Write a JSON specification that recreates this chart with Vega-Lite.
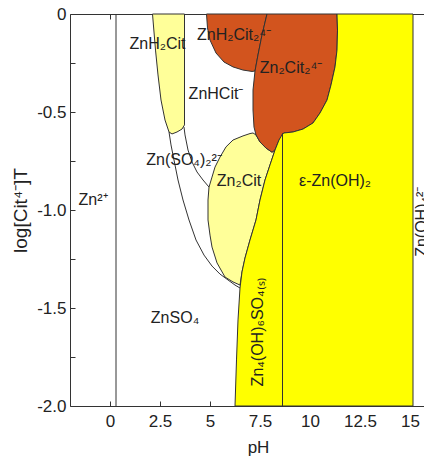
{
  "$schema": "https://vega.github.io/schema/vega-lite/v6.json",
  "width": 354,
  "height": 392,
  "autosize": {"type": "none"},
  "padding": {"left": 70, "top": 14, "right": 0, "bottom": 51},
  "background": "white",
  "config": {
    "view": {"stroke": null},
    "font": "Liberation Sans",
    "axis": {
      "grid": false,
      "domainColor": "#333",
      "tickColor": "#333",
      "labelColor": "#222",
      "titleColor": "#222",
      "labelFont": "Liberation Sans",
      "titleFont": "Liberation Sans",
      "labelFontSize": 17,
      "titleFontSize": 17,
      "titleFontWeight": "normal",
      "tickSize": -5,
      "labelPadding": 12
    }
  },
  "datasets": {
    "poly": [
      {"r": "A", "i": 1, "x": 2.125, "y": 0},
      {"r": "A", "i": 2, "x": 2.275, "y": -0.184},
      {"r": "A", "i": 3, "x": 2.4, "y": -0.311},
      {"r": "A", "i": 4, "x": 2.55, "y": -0.439},
      {"r": "A", "i": 5, "x": 2.75, "y": -0.541},
      {"r": "A", "i": 6, "x": 2.95, "y": -0.602},
      {"r": "A", "i": 7, "x": 3.1, "y": -0.612},
      {"r": "A", "i": 8, "x": 3.35, "y": -0.602},
      {"r": "A", "i": 9, "x": 3.6, "y": -0.587},
      {"r": "A", "i": 10, "x": 3.725, "y": -0.566},
      {"r": "A", "i": 11, "x": 3.725, "y": 0},
      {"r": "A", "i": 12, "x": 2.125, "y": 0},
      {"r": "D", "i": 1, "x": 7.15, "y": -0.607},
      {"r": "D", "i": 2, "x": 7.0, "y": -0.61},
      {"r": "D", "i": 3, "x": 6.65, "y": -0.622},
      {"r": "D", "i": 4, "x": 6.15, "y": -0.643},
      {"r": "D", "i": 5, "x": 5.8, "y": -0.678},
      {"r": "D", "i": 6, "x": 5.5, "y": -0.73},
      {"r": "D", "i": 7, "x": 5.25, "y": -0.781},
      {"r": "D", "i": 8, "x": 5.1, "y": -0.832},
      {"r": "D", "i": 9, "x": 4.95, "y": -0.883},
      {"r": "D", "i": 10, "x": 4.9, "y": -0.949},
      {"r": "D", "i": 11, "x": 4.9, "y": -1.051},
      {"r": "D", "i": 12, "x": 5.0, "y": -1.128},
      {"r": "D", "i": 13, "x": 5.1, "y": -1.189},
      {"r": "D", "i": 14, "x": 5.35, "y": -1.27},
      {"r": "D", "i": 15, "x": 5.75, "y": -1.342},
      {"r": "D", "i": 16, "x": 6.15, "y": -1.367},
      {"r": "D", "i": 17, "x": 6.5, "y": -1.383},
      {"r": "D", "i": 18, "x": 6.6, "y": -1.316},
      {"r": "D", "i": 19, "x": 6.75, "y": -1.245},
      {"r": "D", "i": 20, "x": 7.0, "y": -1.153},
      {"r": "D", "i": 21, "x": 7.3, "y": -1.051},
      {"r": "D", "i": 22, "x": 7.5, "y": -0.949},
      {"r": "D", "i": 23, "x": 7.75, "y": -0.847},
      {"r": "D", "i": 24, "x": 8.0, "y": -0.77},
      {"r": "D", "i": 25, "x": 8.25, "y": -0.694},
      {"r": "D", "i": 26, "x": 8.1, "y": -0.705},
      {"r": "D", "i": 27, "x": 7.8, "y": -0.684},
      {"r": "D", "i": 28, "x": 7.5, "y": -0.653},
      {"r": "D", "i": 29, "x": 7.3, "y": -0.617},
      {"r": "D", "i": 30, "x": 7.15, "y": -0.607},
      {"r": "B", "i": 1, "x": 4.825, "y": 0},
      {"r": "B", "i": 2, "x": 4.875, "y": -0.071},
      {"r": "B", "i": 3, "x": 5.0, "y": -0.133},
      {"r": "B", "i": 4, "x": 5.3, "y": -0.199},
      {"r": "B", "i": 5, "x": 5.7, "y": -0.245},
      {"r": "B", "i": 6, "x": 6.15, "y": -0.27},
      {"r": "B", "i": 7, "x": 6.65, "y": -0.286},
      {"r": "B", "i": 8, "x": 7.1, "y": -0.293},
      {"r": "B", "i": 9, "x": 7.25, "y": -0.291},
      {"r": "B", "i": 10, "x": 7.4, "y": -0.209},
      {"r": "B", "i": 11, "x": 7.6, "y": -0.107},
      {"r": "B", "i": 12, "x": 7.85, "y": 0},
      {"r": "B", "i": 13, "x": 4.825, "y": 0},
      {"r": "C", "i": 1, "x": 7.85, "y": 0},
      {"r": "C", "i": 2, "x": 11.35, "y": 0},
      {"r": "C", "i": 3, "x": 11.375, "y": -0.082},
      {"r": "C", "i": 4, "x": 11.35, "y": -0.184},
      {"r": "C", "i": 5, "x": 11.25, "y": -0.27},
      {"r": "C", "i": 6, "x": 11.05, "y": -0.362},
      {"r": "C", "i": 7, "x": 10.85, "y": -0.439},
      {"r": "C", "i": 8, "x": 10.5, "y": -0.505},
      {"r": "C", "i": 9, "x": 10.15, "y": -0.556},
      {"r": "C", "i": 10, "x": 9.65, "y": -0.587},
      {"r": "C", "i": 11, "x": 9.15, "y": -0.602},
      {"r": "C", "i": 12, "x": 8.7, "y": -0.607},
      {"r": "C", "i": 13, "x": 8.45, "y": -0.643},
      {"r": "C", "i": 14, "x": 8.25, "y": -0.694},
      {"r": "C", "i": 15, "x": 8.1, "y": -0.705},
      {"r": "C", "i": 16, "x": 7.8, "y": -0.684},
      {"r": "C", "i": 17, "x": 7.5, "y": -0.653},
      {"r": "C", "i": 18, "x": 7.3, "y": -0.617},
      {"r": "C", "i": 19, "x": 7.2, "y": -0.577},
      {"r": "C", "i": 20, "x": 7.15, "y": -0.49},
      {"r": "C", "i": 21, "x": 7.15, "y": -0.388},
      {"r": "C", "i": 22, "x": 7.25, "y": -0.291},
      {"r": "C", "i": 23, "x": 7.4, "y": -0.209},
      {"r": "C", "i": 24, "x": 7.6, "y": -0.107},
      {"r": "C", "i": 25, "x": 7.85, "y": 0},
      {"r": "E", "i": 1, "x": 8.65, "y": -0.607},
      {"r": "E", "i": 2, "x": 8.45, "y": -0.643},
      {"r": "E", "i": 3, "x": 8.25, "y": -0.694},
      {"r": "E", "i": 4, "x": 8.0, "y": -0.77},
      {"r": "E", "i": 5, "x": 7.75, "y": -0.847},
      {"r": "E", "i": 6, "x": 7.5, "y": -0.949},
      {"r": "E", "i": 7, "x": 7.3, "y": -1.051},
      {"r": "E", "i": 8, "x": 7.0, "y": -1.153},
      {"r": "E", "i": 9, "x": 6.75, "y": -1.245},
      {"r": "E", "i": 10, "x": 6.6, "y": -1.316},
      {"r": "E", "i": 11, "x": 6.5, "y": -1.398},
      {"r": "E", "i": 12, "x": 6.4, "y": -1.561},
      {"r": "E", "i": 13, "x": 6.325, "y": -1.765},
      {"r": "E", "i": 14, "x": 6.25, "y": -2.0},
      {"r": "E", "i": 15, "x": 8.625, "y": -2.0},
      {"r": "E", "i": 16, "x": 8.625, "y": -0.61},
      {"r": "E", "i": 17, "x": 8.65, "y": -0.607},
      {"r": "F", "i": 1, "x": 8.625, "y": -2.0},
      {"r": "F", "i": 2, "x": 15.15, "y": -2.0},
      {"r": "F", "i": 3, "x": 15.15, "y": 0},
      {"r": "F", "i": 4, "x": 11.35, "y": 0},
      {"r": "F", "i": 5, "x": 11.375, "y": -0.082},
      {"r": "F", "i": 6, "x": 11.35, "y": -0.184},
      {"r": "F", "i": 7, "x": 11.25, "y": -0.27},
      {"r": "F", "i": 8, "x": 11.05, "y": -0.362},
      {"r": "F", "i": 9, "x": 10.85, "y": -0.439},
      {"r": "F", "i": 10, "x": 10.5, "y": -0.505},
      {"r": "F", "i": 11, "x": 10.15, "y": -0.556},
      {"r": "F", "i": 12, "x": 9.65, "y": -0.587},
      {"r": "F", "i": 13, "x": 9.15, "y": -0.602},
      {"r": "F", "i": 14, "x": 8.7, "y": -0.607},
      {"r": "F", "i": 15, "x": 8.625, "y": -0.612},
      {"r": "F", "i": 16, "x": 8.625, "y": -2.0}
    ],
    "lines": [
      {"g": "Z", "i": 1, "x": 0.3, "y": 0},
      {"g": "Z", "i": 2, "x": 0.3, "y": -2},
      {"g": "O", "i": 1, "x": 2.95, "y": -0.602},
      {"g": "O", "i": 2, "x": 3.05, "y": -0.668},
      {"g": "O", "i": 3, "x": 3.2, "y": -0.745},
      {"g": "O", "i": 4, "x": 3.4, "y": -0.847},
      {"g": "O", "i": 5, "x": 3.65, "y": -0.949},
      {"g": "O", "i": 6, "x": 3.95, "y": -1.051},
      {"g": "O", "i": 7, "x": 4.3, "y": -1.153},
      {"g": "O", "i": 8, "x": 4.7, "y": -1.23},
      {"g": "O", "i": 9, "x": 5.1, "y": -1.286},
      {"g": "O", "i": 10, "x": 5.5, "y": -1.327},
      {"g": "O", "i": 11, "x": 5.9, "y": -1.357},
      {"g": "O", "i": 12, "x": 6.25, "y": -1.383},
      {"g": "O", "i": 13, "x": 6.5, "y": -1.398},
      {"g": "I", "i": 1, "x": 3.7, "y": -0.577},
      {"g": "I", "i": 2, "x": 3.75, "y": -0.617},
      {"g": "I", "i": 3, "x": 3.9, "y": -0.694},
      {"g": "I", "i": 4, "x": 4.1, "y": -0.755},
      {"g": "I", "i": 5, "x": 4.35, "y": -0.806},
      {"g": "I", "i": 6, "x": 4.65, "y": -0.847},
      {"g": "I", "i": 7, "x": 4.95, "y": -0.883}
    ],
    "labels": [
      {"t": "Zn²⁺", "x": -0.85, "y": -0.95},
      {"t": "ZnH₂Cit", "x": 2.375, "y": -0.153},
      {"t": "ZnH₂Cit₂⁴⁻", "x": 6.2, "y": -0.107},
      {"t": "Zn₂Cit₂⁴⁻", "x": 9.05, "y": -0.276},
      {"t": "ZnHCit⁻", "x": 5.3, "y": -0.408},
      {"t": "Zn(SO₄)₂²⁻", "x": 3.7, "y": -0.745},
      {"t": "Zn₂Cit", "x": 6.45, "y": -0.852},
      {"t": "ε-Zn(OH)₂", "x": 11.25, "y": -0.852},
      {"t": "ZnSO₄", "x": 3.25, "y": -1.551}
    ],
    "vlabels": [
      {"t": "Zn₄(OH)₆SO₄₍ₛ₎", "x": 7.4, "y": -1.622},
      {"t": "Zn(OH)₄²⁻", "x": 15.6, "y": -1.06}
    ]
  },
  "resolve": {"axis": {"x": "independent", "y": "independent"}},
  "layer": [
    {
      "data": {"name": "poly"},
      "transform": [{"filter": "datum.r == 'D' || datum.r == 'A'"}],
      "mark": {"type": "line", "fill": "#FFFF99", "stroke": "#333", "strokeWidth": 1},
      "encoding": {
        "x": {"field": "x", "type": "quantitative", "scale": {"domain": [-2, 15.7], "nice": false, "zero": false},
              "axis": {"orient": "bottom", "values": [0, 2.5, 5, 7.5, 10, 12.5, 15], "labelExpr": "'' + datum.value", "title": "pH", "titleX": 188, "titleY": 41, "titleBaseline": "middle", "titleAlign": "center"}},
        "y": {"field": "y", "type": "quantitative", "scale": {"domain": [-2, 0], "nice": false, "zero": false},
              "axis": {"orient": "left", "values": [0, -0.25, -0.5, -0.75, -1, -1.25, -1.5, -1.75, -2], "labelPadding": 9,
                       "labelExpr": "datum.value == 0 ? '0' : (abs(datum.value * 2 - round(datum.value * 2)) < 0.001 ? '-' + format(abs(datum.value), '.1f') : '')",
                       "title": "log[Cit⁴⁻]T", "titleFontSize": 19, "titleX": -50, "titleY": 196, "titleAngle": 270, "titleAlign": "center", "titleBaseline": "middle"}},
        "detail": {"field": "r"},
        "order": {"field": "i", "type": "quantitative"}
      }
    },
    {
      "data": {"name": "poly"},
      "transform": [{"filter": "datum.r == 'B' || datum.r == 'C'"}],
      "mark": {"type": "line", "fill": "#D2541E", "stroke": "#333", "strokeWidth": 1},
      "encoding": {
        "x": {"field": "x", "type": "quantitative", "axis": null},
        "y": {"field": "y", "type": "quantitative", "axis": null},
        "detail": {"field": "r"},
        "order": {"field": "i", "type": "quantitative"}
      }
    },
    {
      "data": {"name": "poly"},
      "transform": [{"filter": "datum.r == 'E' || datum.r == 'F'"}],
      "mark": {"type": "line", "fill": "#FFFF00", "stroke": "#333", "strokeWidth": 1},
      "encoding": {
        "x": {"field": "x", "type": "quantitative", "axis": null},
        "y": {"field": "y", "type": "quantitative", "axis": null},
        "detail": {"field": "r"},
        "order": {"field": "i", "type": "quantitative"}
      }
    },
    {
      "data": {"name": "lines"},
      "mark": {"type": "line", "stroke": "#333", "strokeWidth": 1},
      "encoding": {
        "x": {"field": "x", "type": "quantitative",
              "axis": {"orient": "top", "values": [0, 2.5, 5, 7.5, 10, 12.5, 15], "labels": false, "title": null}},
        "y": {"field": "y", "type": "quantitative", "axis": null},
        "detail": {"field": "g"},
        "order": {"field": "i", "type": "quantitative"}
      }
    },
    {
      "data": {"name": "labels"},
      "mark": {"type": "text", "fontSize": 16, "color": "#222", "font": "Liberation Sans"},
      "encoding": {
        "x": {"field": "x", "type": "quantitative", "axis": null},
        "y": {"field": "y", "type": "quantitative", "axis": null},
        "text": {"field": "t"}
      }
    },
    {
      "data": {"name": "vlabels"},
      "mark": {"type": "text", "fontSize": 16, "color": "#222", "font": "Liberation Sans", "angle": 270},
      "encoding": {
        "x": {"field": "x", "type": "quantitative", "axis": null},
        "y": {"field": "y", "type": "quantitative", "axis": null},
        "text": {"field": "t"}
      }
    }
  ]
}
